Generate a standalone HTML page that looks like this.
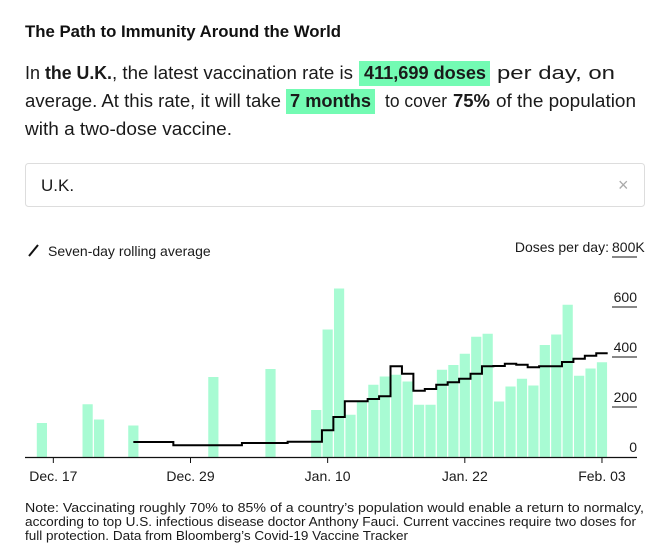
<!DOCTYPE html>
<html><head><meta charset="utf-8">
<style>
html,body{margin:0;padding:0;background:#fff;}
svg{display:block;font-family:"Liberation Sans",Arial,sans-serif;}
</style></head>
<body>
<svg id="chart" width="660" height="555" viewBox="0 0 660 555">
  <text x="25" y="37" font-size="17" font-weight="bold" fill="#111" textLength="316" lengthAdjust="spacingAndGlyphs">The Path to Immunity Around the World</text>
  <g font-size="18" fill="#1a1a1a">
    <text x="25" y="79">In</text>
    <text x="45" y="79" font-weight="bold" textLength="67" lengthAdjust="spacingAndGlyphs">the U.K.</text>
    <text x="112" y="79" textLength="241" lengthAdjust="spacingAndGlyphs">, the latest vaccination rate is</text>
    <rect x="359" y="61" width="131" height="25" fill="#73fbb3"/>
    <text x="364" y="79" font-weight="bold" textLength="122" lengthAdjust="spacingAndGlyphs">411,699 doses</text>
    <text x="497" y="79" textLength="118" lengthAdjust="spacingAndGlyphs">per day, on</text>
    <text x="25" y="107" textLength="256" lengthAdjust="spacingAndGlyphs">average. At this rate, it will take</text>
    <rect x="286" y="89" width="89" height="25" fill="#73fbb3"/>
    <text x="290" y="107" font-weight="bold" textLength="81" lengthAdjust="spacingAndGlyphs">7 months</text>
    <text x="385" y="107" textLength="62" lengthAdjust="spacingAndGlyphs">to cover</text>
    <text x="453" y="107" font-weight="bold" textLength="37" lengthAdjust="spacingAndGlyphs">75%</text>
    <text x="496" y="107" textLength="140" lengthAdjust="spacingAndGlyphs">of the population</text>
    <text x="25" y="135" textLength="207" lengthAdjust="spacingAndGlyphs">with a two-dose vaccine.</text>
  </g>
  <g>
    <rect x="25.5" y="163.5" width="619" height="43" rx="3" fill="#fff" stroke="#ddd"/>
    <text x="41" y="191" font-size="17" fill="#1a1a1a">U.K.</text>
    <text x="618" y="191" font-size="18" fill="#aaa">×</text>
  </g>
  <g>
    <line x1="29" y1="256" x2="38" y2="245" stroke="#111" stroke-width="2"/>
    <text x="48" y="256" font-size="14" fill="#1a1a1a">Seven-day rolling average</text>
  </g>
  <g id="bars"></g>
  <path id="avgline" fill="none" stroke="#000" stroke-width="2"/>
  <g id="yaxis"></g>
  <g id="xaxis"></g>
  <g font-size="12.5" fill="#1a1a1a">
    <text x="25" y="512" textLength="619" lengthAdjust="spacingAndGlyphs">Note: Vaccinating roughly 70% to 85% of a country’s population would enable a return to normalcy,</text>
    <text x="25" y="526" textLength="611" lengthAdjust="spacingAndGlyphs">according to top U.S. infectious disease doctor Anthony Fauci. Current vaccines require two doses for</text>
    <text x="25" y="540" textLength="383" lengthAdjust="spacingAndGlyphs">full protection. Data from Bloomberg’s Covid-19 Vaccine Tracker</text>
  </g>
</svg>
<script>
// Days since Dec 16
const dayLabels = ["Dec. 17","Dec. 29","Jan. 10","Jan. 22","Feb. 03"];
const dayLabelIdx = [1,13,25,37,49];
const barDays = [0,4,5,8,15,20,24,25,26,27,28,29,30,31,32,33,34,35,36,37,38,39,40,41,42,43,44,45,46,47,48,49];
const barValues = [136,211,150,126,320,352,188,510,674,169,222,289,322,329,302,209,209,349,368,413,481,493,222,282,313,286,448,490,609,325,354,379];
const avgStart = 8;
const avgValues = [60,60,60,60,47,47,47,47,47,47,56,56,56,56,61,61,61,107,160,223,223,232,243,363,333,265,272,289,299,313,333,363,364,373,369,359,363,363,380,393,405,415];
const yTicks = [0,200,400,600,800];
const yTickLabels = ["0","200","400","600","800K"];

const NS = "http://www.w3.org/2000/svg";
const x = d => 41.9 + d * 11.43;
const y = v => 457 - v * 0.25;
const bw = 10.2;
function mk(tag, attrs, parent) {
  const e = document.createElementNS(NS, tag);
  for (const k in attrs) e.setAttribute(k, attrs[k]);
  parent.appendChild(e);
  return e;
}
const barsG = document.getElementById('bars');
barDays.forEach((d, i) => {
  const r = mk('rect', {x: x(d) - bw/2, y: y(barValues[i]), width: bw, height: 457 - y(barValues[i]), fill: '#a8fbd3'}, barsG);
  
  
});
let p = "";
avgValues.forEach((v, i) => {
  const d = avgStart + i;
  const x0 = i === 0 ? x(d) : x(d) - 11.43/2;
  const x1 = x(d) + 11.43/2;
  p += (i === 0 ? "M" : "L") + x0 + "," + y(v) + "L" + x1 + "," + y(v);
});
document.getElementById('avgline').setAttribute('d', p);
const yG = document.getElementById('yaxis');
yTicks.forEach((t, i) => {
  if (t > 0) {
    const l = mk('line', {x1: 612, x2: 637, y1: y(t), y2: y(t), stroke: '#111', 'stroke-width': 1}, yG);
    
    
  }
  const tx = mk('text', {x: t === 800 ? 612 : 637, y: y(t) - 5, 'font-size': 14, fill: '#1a1a1a', 'text-anchor': t === 800 ? 'start' : 'end'}, yG);
  tx.textContent = yTickLabels[i];
  
  
});
const yt = mk('text', {x: 609, y: y(800) - 5, 'font-size': 14, fill: '#1a1a1a', 'text-anchor': 'end'}, yG);
yt.textContent = "Doses per day:";


const xG = document.getElementById('xaxis');
const ax = mk('line', {x1: 25, x2: 637, y1: 457.5, y2: 457.5, stroke: '#111', 'stroke-width': 1.2}, xG);


dayLabels.forEach((lab, i) => {
  const xx = x(dayLabelIdx[i]);
  const tk = mk('line', {x1: xx, x2: xx, y1: 457, y2: 463, stroke: '#111'}, xG);
  
  
  const tx = mk('text', {x: xx, y: 481, 'font-size': 14, fill: '#1a1a1a', 'text-anchor': 'middle'}, xG);
  tx.textContent = lab;
  
  
});
</script>
</body></html>
